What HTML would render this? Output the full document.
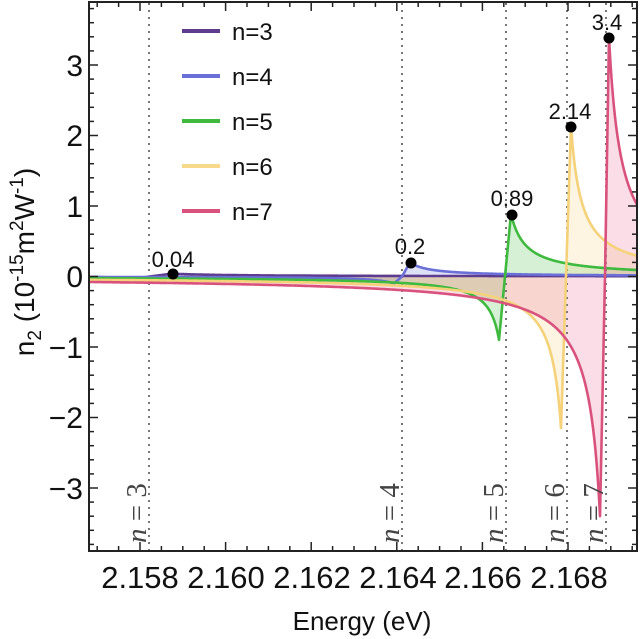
<!DOCTYPE html>
<html><head><meta charset="utf-8"><style>
body{margin:0;background:#fff;width:640px;height:639px;overflow:hidden}
svg{display:block}
text{font-family:"Liberation Sans",sans-serif;fill:#111}
</style></head><body>
<svg id="s" width="640" height="639" viewBox="0 0 640 639" xmlns="http://www.w3.org/2000/svg">
<g id="fills"></g>
<g id="dots" stroke="#777" stroke-width="2" stroke-dasharray="2 5">
<line x1="149" y1="3" x2="149" y2="551"/>
<line x1="402" y1="3" x2="402" y2="551"/>
<line x1="506" y1="3" x2="506" y2="551"/>
<line x1="567" y1="3" x2="567" y2="551"/>
<line x1="606" y1="3" x2="606" y2="551"/>
</g>
<g id="lines" fill="none" stroke-width="2.6" stroke-linejoin="round"></g>
<g id="ticks" stroke="#222" stroke-width="1.5"></g>
<rect x="89" y="2" width="548" height="549" fill="none" stroke="#222" stroke-width="2"/>
<g fill="#000">
<circle cx="173" cy="274" r="5.5"/><circle cx="411" cy="263" r="5.5"/>
<circle cx="512" cy="215" r="5.5"/><circle cx="571" cy="127" r="5.5"/><circle cx="609" cy="38" r="5.5"/>
</g>
<g font-size="22" text-anchor="middle">
<text x="173" y="267">0.04</text><text x="410" y="254">0.2</text>
<text x="512" y="206">0.89</text><text x="570" y="119">2.14</text><text x="607" y="30">3.4</text>
</g>
<g style="font-family:'Liberation Serif',serif;font-size:29px;fill:#444">
<text style="font-family:'Liberation Serif',serif;fill:#444" transform="translate(146,543) rotate(-90)"><tspan font-style="italic">n</tspan> = 3</text>
<text style="font-family:'Liberation Serif',serif;fill:#444" transform="translate(399,543) rotate(-90)"><tspan font-style="italic">n</tspan> = 4</text>
<text style="font-family:'Liberation Serif',serif;fill:#444" transform="translate(503,543) rotate(-90)"><tspan font-style="italic">n</tspan> = 5</text>
<text style="font-family:'Liberation Serif',serif;fill:#444" transform="translate(564,543) rotate(-90)"><tspan font-style="italic">n</tspan> = 6</text>
<text style="font-family:'Liberation Serif',serif;fill:#444" transform="translate(603,543) rotate(-90)"><tspan font-style="italic">n</tspan> = 7</text>
</g>
<g stroke-width="4">
<line x1="182" y1="31" x2="220" y2="31" stroke="#5d3b8e"/>
<line x1="182" y1="76" x2="220" y2="76" stroke="#6b70d8"/>
<line x1="182" y1="121" x2="220" y2="121" stroke="#3fba3f"/>
<line x1="182" y1="166" x2="220" y2="166" stroke="#f7d98a"/>
<line x1="182" y1="211" x2="220" y2="211" stroke="#d9527e"/>
</g>
<g font-size="24">
<text x="232" y="40">n=3</text><text x="232" y="85">n=4</text><text x="232" y="130">n=5</text>
<text x="232" y="175">n=6</text><text x="232" y="220">n=7</text>
</g>
<g font-size="30" text-anchor="end">
<text x="83" y="76">3</text><text x="83" y="146">2</text><text x="83" y="217">1</text>
<text x="83" y="287">0</text><text x="83" y="358">−1</text><text x="83" y="428">−2</text><text x="83" y="499">−3</text>
</g>
<g font-size="31" text-anchor="middle">
<text x="140" y="588">2.158</text><text x="226" y="588">2.160</text><text x="312" y="588">2.162</text>
<text x="398" y="588">2.164</text><text x="483" y="588">2.166</text><text x="569" y="588">2.168</text>
</g>
<text x="362" y="630" font-size="26" text-anchor="middle">Energy (eV)</text>
<text transform="translate(34,262) rotate(-90)" font-size="28" text-anchor="middle">n<tspan font-size="19" dy="7">2</tspan><tspan dy="-7"> (10</tspan><tspan font-size="19" dy="-11">-15</tspan><tspan dy="11">m</tspan><tspan font-size="19" dy="-11">2</tspan><tspan dy="11">W</tspan><tspan font-size="19" dy="-11">-1</tspan><tspan dy="11">)</tspan></text>
</svg>
<script>
var X0=89,X1=637,Y0=276.5,K=70.5;
function Y(v){return Y0-v*K;}
var series=[
{c:150,r:22,P:0.04,w:60,l:10,D:0.02,wl:40,col:"#5d3b8e",fill:"#5d3b8e"},
{c:402,r:8,P:0.2,w:20,l:8,D:0.1,wl:20,col:"#6b70d8",fill:"#6b70d8"},
{c:505,r:6,P:0.89,w:14.6,l:6,D:0.9,wl:11,col:"#3fba3f",fill:"#3fba3f"},
{c:566,r:5,P:2.14,w:10.5,l:5,D:2.15,wl:10.5,col:"#f5d27a",fill:"#f5d27a"},
{c:605,r:4,P:3.4,w:12,l:5,D:3.4,wl:12,col:"#d9527e",fill:"#e8668e"}];
function f(s,x){var d=x-s.c;
 if(d>=0){ if(d<s.r) return s.P*d/s.r; return s.P*s.w/(s.w+d-s.r);}
 var a=-d; if(a<s.l) return -s.D*a/s.l; return -s.D*s.wl/(s.wl+a-s.l);}
var ns="http://www.w3.org/2000/svg",F=document.getElementById("fills"),L=document.getElementById("lines");
series.forEach(function(s){
 var pts=[];for(var x=X0;x<=X1;x+=0.5){pts.push(x.toFixed(1)+","+Y(f(s,x)).toFixed(1));}
 var p=document.createElementNS(ns,"path");
 p.setAttribute("d","M"+X0+","+Y0+" L"+pts.join(" L")+" L"+X1+","+Y0+"Z");
 p.setAttribute("fill",s.fill);p.setAttribute("fill-opacity","0.22");F.appendChild(p);
});
series.forEach(function(s){
 var pts=[];for(var x=X0;x<=X1;x+=0.5){pts.push(x.toFixed(1)+","+Y(f(s,x)).toFixed(1));}
 var p=document.createElementNS(ns,"path");
 p.setAttribute("d","M"+pts.join(" L"));p.setAttribute("stroke",s.col);L.appendChild(p);
});
var T=document.getElementById("ticks"),h="";
for(var i=-10;i<=40;i++){var x=140+i*21.4;if(x<X0||x>X1)continue;var len=(i%4==0)?9:5;
 h+='<line x1="'+x+'" y1="551" x2="'+x+'" y2="'+(551-len)+'"/><line x1="'+x+'" y1="2" x2="'+x+'" y2="'+(2+len)+'"/>';}
for(var j=-20;j<=20;j++){var y=Y0-j*K/5;if(y<2||y>551)continue;var len=(j%5==0)?9:5;
 h+='<line x1="89" y1="'+y+'" x2="'+(89+len)+'" y2="'+y+'"/><line x1="637" y1="'+y+'" x2="'+(637-len)+'" y2="'+y+'"/>';}
T.innerHTML=h;
</script>
</body></html>
